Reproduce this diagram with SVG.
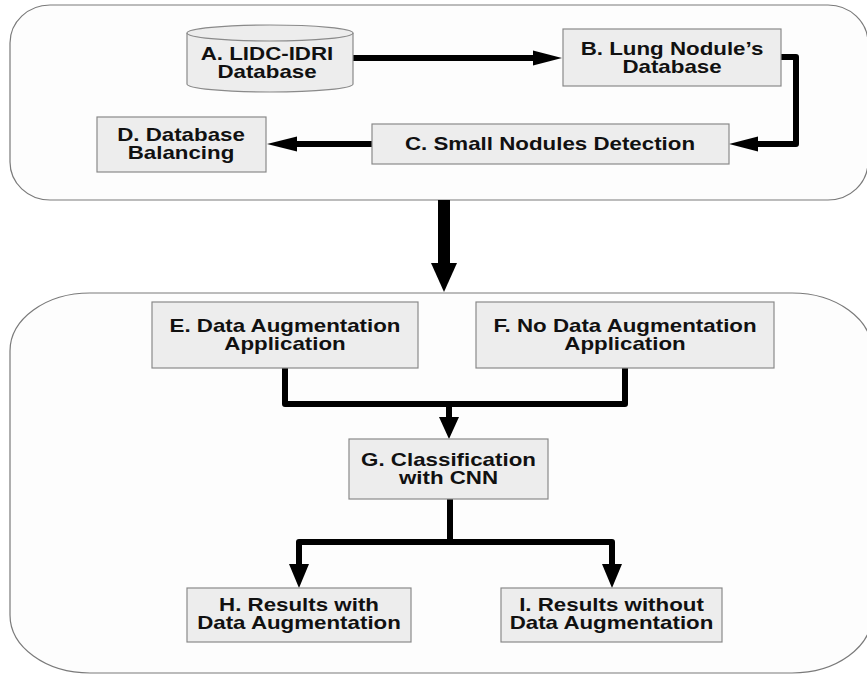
<svg xmlns="http://www.w3.org/2000/svg" width="867" height="675" viewBox="0 0 867 675">
<defs>
<style>
.bg{fill:#ffffff}
.cont{fill:#fdfdfd;stroke:#7a7a7a;stroke-width:1.2}
.box{fill:#ededed;stroke:#8a8a8a;stroke-width:1.2}
.t{font-family:"Liberation Sans",Arial,sans-serif;font-weight:bold;font-size:18px;fill:#111;text-anchor:middle}
.ln{fill:none;stroke:#000;stroke-width:6;stroke-linejoin:round;stroke-linecap:butt}
.hd{fill:#000}
</style>
</defs>
<rect class="bg" x="0" y="0" width="867" height="675"/>
<g id="containers">
<rect id="top-panel" class="cont" x="10" y="5" width="858" height="195" rx="40" ry="38"/>
<rect id="bottom-panel" class="cont" x="10" y="293" width="862" height="380" rx="80" ry="58"/>
</g>
<g id="connectors">
<path class="ln" d="M353 58 H535"/>
<polygon class="hd" points="533,50.5 562,58 533,65.5"/>
<path class="ln" d="M781 57 H796 V144 H756"/>
<polygon class="hd" points="758,136.5 729,144 758,151.5"/>
<path class="ln" d="M372 144 H295"/>
<polygon class="hd" points="297,136.5 267,144 297,151.5"/>
<rect class="hd" x="438" y="200" width="12" height="64"/>
<polygon class="hd" points="431,263 457,263 444,292"/>
<path class="ln" d="M285 368 V404 H625 V368"/>
<path class="ln" d="M449 404 V419"/>
<polygon class="hd" points="439,417 459,417 449,439"/>
<path class="ln" d="M450 499 V542"/>
<path class="ln" d="M299 566 V542 H612 V566"/>
<polygon class="hd" points="289,564 309,564 299,588"/>
<polygon class="hd" points="602,564 622,564 612,588"/>
</g>
<g id="A">
<path class="box" d="M187 33 V84 A83 8 0 0 0 353 84 V33 A83 8 0 0 0 187 33 Z"/>
<path fill="none" stroke="#8a8a8a" stroke-width="1.2" d="M187 33 A83 8 0 0 0 353 33"/>
<text class="t" transform="translate(267,60) scale(1.24,1)">A. LIDC-IDRI</text>
<text class="t" transform="translate(267,78) scale(1.24,1)">Database</text>
</g>
<g id="B">
<rect class="box" x="563" y="29" width="218" height="57"/>
<text class="t" transform="translate(672,55) scale(1.24,1)">B. Lung Nodule’s</text>
<text class="t" transform="translate(672,73) scale(1.24,1)">Database</text>
</g>
<g id="C">
<rect class="box" x="372" y="124" width="357" height="40"/>
<text class="t" transform="translate(550,150) scale(1.24,1)">C. Small Nodules Detection</text>
</g>
<g id="D">
<rect class="box" x="97" y="117" width="169" height="55"/>
<text class="t" transform="translate(181,141) scale(1.24,1)">D. Database</text>
<text class="t" transform="translate(181,159) scale(1.24,1)">Balancing</text>
</g>
<g id="E">
<rect class="box" x="152" y="302" width="266" height="66"/>
<text class="t" transform="translate(285,332) scale(1.24,1)">E. Data Augmentation</text>
<text class="t" transform="translate(285,350) scale(1.24,1)">Application</text>
</g>
<g id="F">
<rect class="box" x="476" y="302" width="298" height="66"/>
<text class="t" transform="translate(625,332) scale(1.24,1)">F. No Data Augmentation</text>
<text class="t" transform="translate(625,350) scale(1.24,1)">Application</text>
</g>
<g id="G">
<rect class="box" x="349" y="439" width="199" height="60"/>
<text class="t" transform="translate(448.5,466) scale(1.24,1)">G. Classification</text>
<text class="t" transform="translate(448.5,484) scale(1.24,1)">with CNN</text>
</g>
<g id="H">
<rect class="box" x="187" y="588" width="224" height="54"/>
<text class="t" transform="translate(299,611) scale(1.24,1)">H. Results with</text>
<text class="t" transform="translate(299,629) scale(1.24,1)">Data Augmentation</text>
</g>
<g id="I">
<rect class="box" x="501" y="588" width="221" height="54"/>
<text class="t" transform="translate(611.5,611) scale(1.24,1)">I. Results without</text>
<text class="t" transform="translate(611.5,629) scale(1.24,1)">Data Augmentation</text>
</g>
</svg>
